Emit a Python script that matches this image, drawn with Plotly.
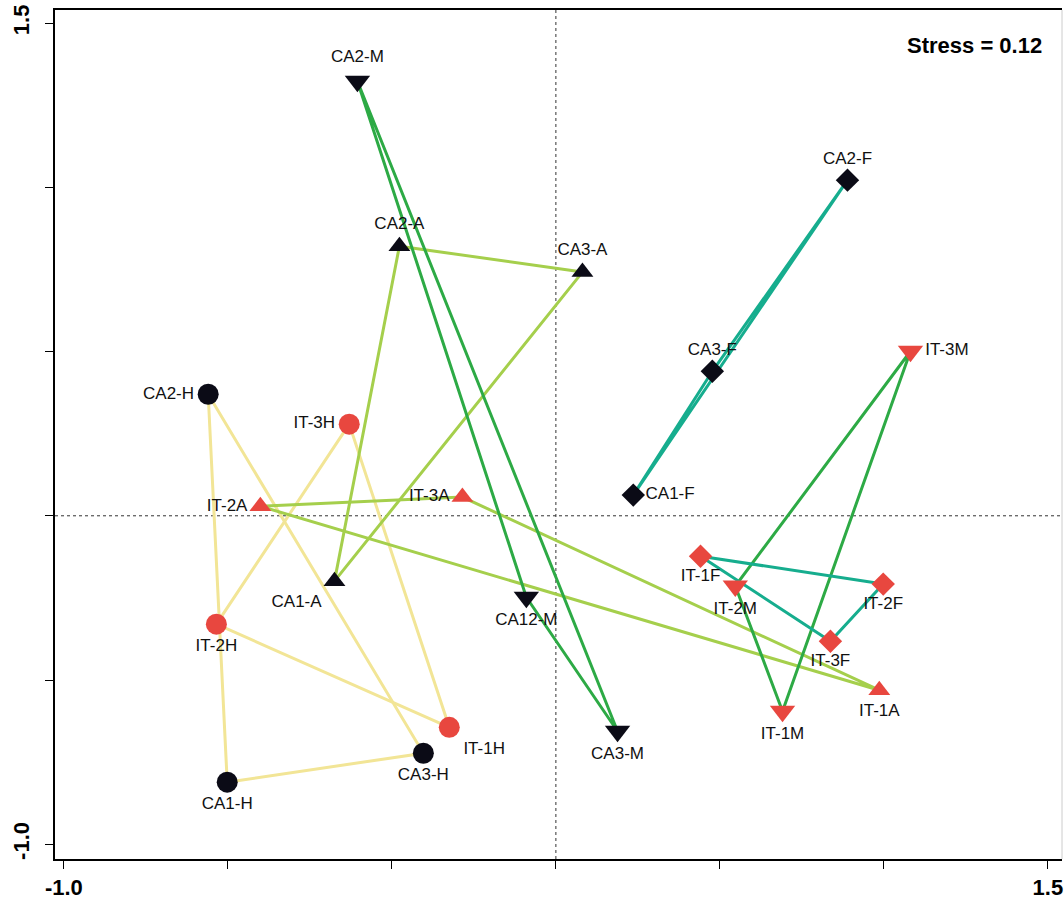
import plotly.graph_objects as go

# ---- data ----
samples = ["CA1-H", "CA2-H", "CA3-H", "IT-1H", "IT-2H", "IT-3H",
           "CA1-A", "CA2-A", "CA3-A", "IT-1A", "IT-2A", "IT-3A",
           "CA12-M", "CA2-M", "CA3-M", "IT-1M", "IT-2M", "IT-3M",
           "CA1-F", "CA2-F", "CA3-F", "IT-1F", "IT-2F", "IT-3F"]
nmds1 = [-1.002, -1.060, -0.404, -0.325, -1.035, -0.630,
         -0.675, -0.477, 0.081, 0.986, -0.901, -0.285,
         -0.090, -0.605, 0.188, 0.691, 0.547, 1.081,
         0.236, 0.889, 0.477, 0.441, 0.998, 0.837]
nmds2 = [-0.811, 0.370, -0.723, -0.644, -0.330, 0.279,
         -0.199, 0.821, 0.742, -0.531, 0.029, 0.057,
         -0.248, 1.323, -0.656, -0.595, -0.214, 0.501,
         0.063, 1.022, 0.440, -0.123, -0.208, -0.382]
origin = ["CA", "CA", "CA", "IT", "IT", "IT"] * 4
season = ["H"] * 6 + ["A"] * 6 + ["M"] * 6 + ["F"] * 6
stress = 0.12

x_tickvals = [-1.5, -1.0, -0.5, 0.0, 0.5, 1.0, 1.5]
x_ticktext = ["-1.0", "", "", "", "", "", "1.5"]
y_tickvals = [-1.0, -0.5, 0.0, 0.5, 1.0, 1.5]
y_ticktext = ["-1.0", "", "", "", "", "1.5"]

# ---- styles ----
season_line_color = {"H": "#f2e596", "A": "#a5cf4c", "M": "#2daa45", "F": "#16ad8e"}
season_symbol = {"H": "circle", "A": "triangle-up", "M": "triangle-down", "F": "diamond"}
season_size = {"H": 21, "A": 19, "M": 22, "F": 18}
origin_color = {"CA": "#0b0b16", "IT": "#e8473f"}
label_pos = {
    "CA1-H": "bottom center", "CA2-H": "middle left", "CA3-H": "bottom center",
    "IT-1H": "bottom right", "IT-2H": "bottom center", "IT-3H": "middle left",
    "CA1-A": "bottom left", "CA2-A": "top center", "CA3-A": "top center",
    "IT-1A": "bottom center", "IT-2A": "middle left", "IT-3A": "middle left",
    "CA12-M": "bottom center", "CA2-M": "top center", "CA3-M": "bottom center",
    "IT-1M": "bottom center", "IT-2M": "bottom center", "IT-3M": "middle right",
    "CA1-F": "middle right", "CA2-F": "top center", "CA3-F": "top center",
    "IT-1F": "bottom center", "IT-2F": "bottom center", "IT-3F": "bottom center",
}
FONT = "Liberation Sans, Arial, sans-serif"

fig = go.Figure()

# connecting triangles (lines under markers)
for s in ["H", "A", "M", "F"]:
    lx, ly = [], []
    for o in ["CA", "IT"]:
        idx = [i for i in range(len(samples)) if season[i] == s and origin[i] == o]
        loop = idx + [idx[0]]
        lx += [nmds1[i] for i in loop] + [None]
        ly += [nmds2[i] for i in loop] + [None]
    fig.add_trace(go.Scatter(x=lx, y=ly, mode="lines",
                             line=dict(color=season_line_color[s], width=3),
                             hoverinfo="skip", showlegend=False))

# markers with labels
for s in ["H", "A", "M", "F"]:
    for o in ["CA", "IT"]:
        idx = [i for i in range(len(samples)) if season[i] == s and origin[i] == o]
        fig.add_trace(go.Scatter(
            x=[nmds1[i] for i in idx], y=[nmds2[i] for i in idx],
            mode="markers+text",
            text=[samples[i] for i in idx],
            textposition=[label_pos[samples[i]] for i in idx],
            textfont=dict(family=FONT, size=17, color="#111111"),
            marker=dict(symbol=season_symbol[s], size=season_size[s],
                        color=origin_color[o], line=dict(width=0)),
            showlegend=False, name=f"{o}-{s}"))

# dotted reference lines at zero
fig.add_shape(type="line", xref="x", yref="paper", x0=0, x1=0, y0=0, y1=1,
              line=dict(color="#333333", width=1, dash="dot"), layer="below")
fig.add_shape(type="line", xref="paper", yref="y", x0=0, x1=1, y0=0, y1=0,
              line=dict(color="#333333", width=1, dash="dot"), layer="below")
# faint right border
fig.add_shape(type="line", xref="paper", yref="paper", x0=1, x1=1, y0=0, y1=1,
              line=dict(color="#cccccc", width=1))

fig.add_annotation(xref="paper", yref="paper", x=0.982, y=0.958,
                   xanchor="right", yanchor="middle", showarrow=False,
                   text=f"Stress = {stress:.2f}",
                   font=dict(family=FONT, size=22, color="black", weight="bold"))

fig.update_layout(
    width=1064, height=902,
    margin=dict(l=55, r=2, t=10, b=43),
    plot_bgcolor="white", paper_bgcolor="white",
    font=dict(family=FONT),
    xaxis=dict(range=[-1.527, 1.543], tickvals=x_tickvals, ticktext=x_ticktext,
               showgrid=False, zeroline=False, showline=True, linecolor="black",
               linewidth=2, mirror=True, ticks="outside", ticklen=8, tickwidth=1,
               tickcolor="black",
               tickfont=dict(family=FONT, size=22, color="black", weight="bold")),
    yaxis=dict(range=[-1.045, 1.540], tickvals=y_tickvals, ticktext=y_ticktext,
               showgrid=False, zeroline=False, showline=True, linecolor="black",
               linewidth=2, ticks="outside", ticklen=8, tickwidth=1,
               tickcolor="black", tickangle=-90, ticklabelstandoff=7,
               tickfont=dict(family=FONT, size=22, color="black", weight="bold")),
)

fig.write_html("out.html")
